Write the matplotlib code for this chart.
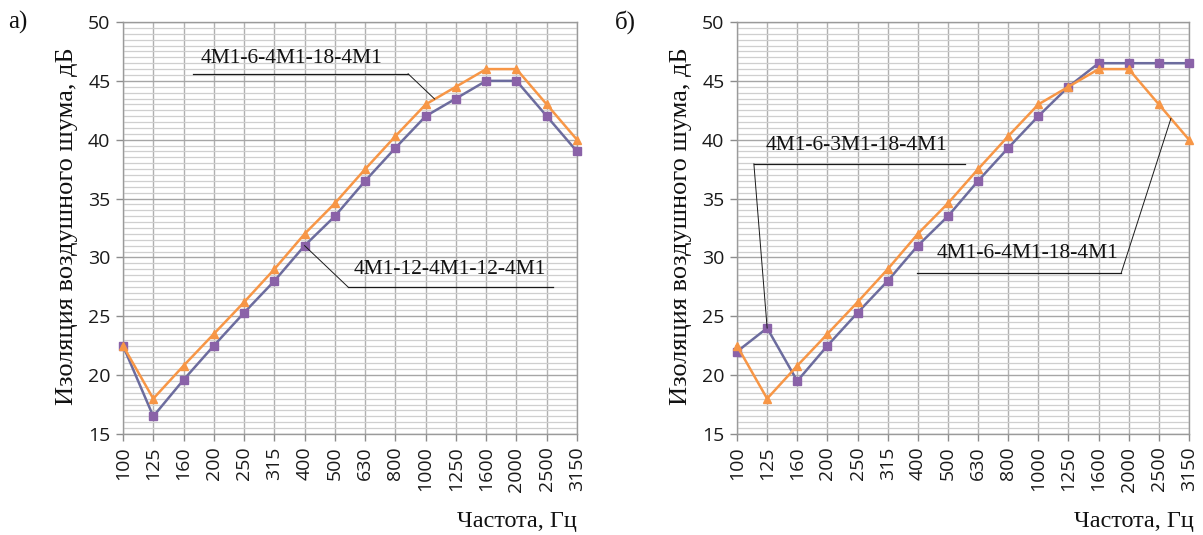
import numpy as np
import matplotlib
matplotlib.use('Agg')
import matplotlib.pyplot as plt
from matplotlib.ticker import MultipleLocator

# ---------------- data ----------------
freqs = ['100', '125', '160', '200', '250', '315', '400', '500', '630', '800',
         '1000', '1250', '1600', '2000', '2500', '3150']

# panel а)
a_orange_name = '4M1-6-4M1-18-4M1'
a_orange = [22.5, 18.0, 20.8, 23.5, 26.2, 29.0, 32.0, 34.6, 37.5, 40.3,
            43.0, 44.5, 46.0, 46.0, 43.0, 40.0]
a_purple_name = '4M1-12-4M1-12-4M1'
a_purple = [22.5, 16.5, 19.6, 22.5, 25.3, 28.0, 31.0, 33.5, 36.5, 39.3,
            42.0, 43.5, 45.0, 45.0, 42.0, 39.0]

# panel б)
b_orange_name = '4M1-6-4M1-18-4M1'
b_orange = [22.5, 18.0, 20.8, 23.5, 26.2, 29.0, 32.0, 34.6, 37.5, 40.3,
            43.0, 44.5, 46.0, 46.0, 43.0, 40.0]
b_purple_name = '4M1-6-3M1-18-4M1'
b_purple = [22.0, 24.0, 19.5, 22.5, 25.3, 28.0, 31.0, 33.5, 36.5, 39.3,
            42.0, 44.5, 46.5, 46.5, 46.5, 46.5]

y_label = 'Изоляция воздушного шума, дБ'
x_label = 'Частота, Гц'
panel_labels = ['а)', 'б)']

# ---------------- style ----------------
ORANGE = '#F79646'
PURPLE_LINE = '#6C6C9E'
PURPLE_MARK = '#8A62A8'
SERIF = ['Liberation Serif', 'DejaVu Serif']
SANS = ['Open Sans', 'DejaVu Sans']

W, H = 1203, 535
fig = plt.figure(figsize=(W / 100, H / 100), dpi=100)


def px_axes(x0, x1, y0, y1):
    return fig.add_axes([x0 / W, 1 - y1 / H, (x1 - x0) / W, (y1 - y0) / H])


def style_axes(ax):
    n = len(freqs)
    x = np.arange(n)
    ax.set_xlim(0, n - 1)
    ax.set_ylim(15, 50)
    ax.set_xticks(x)
    ax.set_xticklabels(freqs, rotation=90, fontfamily=SANS, fontsize=14,
                       color='#1a1a1a')
    ax.yaxis.set_major_locator(MultipleLocator(5))
    ax.yaxis.set_minor_locator(MultipleLocator(0.5))
    for lab in ax.get_yticklabels():
        lab.set_fontfamily(SANS)
        lab.set_fontsize(14)
        lab.set_color('#1a1a1a')
    ax.tick_params(axis='both', which='major', direction='out', length=5,
                   width=1, color='#8c8c8c', pad=4)
    ax.tick_params(axis='y', which='minor', length=0)
    ax.grid(axis='y', which='minor', color='#cfcfcf', lw=0.9, zorder=0)
    ax.grid(axis='y', which='major', color='#a6a6a6', lw=1.0, zorder=0)
    ax.grid(axis='x', which='major', color='#b0b0b0', lw=1.0, zorder=0)
    ax.set_axisbelow(True)
    for s in ax.spines.values():
        s.set_color('#9a9a9a')
        s.set_linewidth(1.0)


def draw_series(ax, orange, purple):
    x = np.arange(len(freqs))
    ax.plot(x, purple, color=PURPLE_LINE, lw=1.8, marker='s', ms=5.2,
            mfc=PURPLE_MARK, mec=PURPLE_MARK, zorder=3, clip_on=False)
    ax.plot(x, orange, color=ORANGE, lw=1.8, marker='^', ms=5.5,
            mfc=ORANGE, mec=ORANGE, zorder=4, clip_on=False)


def callout(ax, text, tx, ty, ux0, ux1, uy, from_left, px, py):
    ax.text(tx, ty, text, ha='center', va='center', fontfamily=SERIF,
            fontsize=15.5, color='#111111', zorder=6)
    ax.plot([ux0, ux1], [uy, uy], color='#1a1a1a', lw=0.9, zorder=5,
            clip_on=False)
    sx = ux0 if from_left else ux1
    ax.plot([sx, px], [uy, py], color='#1a1a1a', lw=0.7, zorder=5,
            clip_on=False)


# ---------- panel а ----------
axA = px_axes(123, 577, 22, 434)
style_axes(axA)
draw_series(axA, a_orange, a_purple)
xi = np.arange(len(freqs))
callout(axA, a_orange_name, 5.58, 46.9, 2.31, 9.42, 45.6, False,
        10.3, np.interp(10.3, xi, a_orange))
callout(axA, a_purple_name, 10.8, 28.95, 7.43, 14.2, 27.5, True,
        6, a_purple[6])

# ---------- panel б ----------
axB = px_axes(737, 1189, 22, 434)
style_axes(axB)
draw_series(axB, b_orange, b_purple)
callout(axB, b_purple_name, 3.97, 39.5, 0.56, 7.55, 37.95, True,
        1, b_purple[1])
callout(axB, b_orange_name, 9.64, 30.3, 5.96, 12.75, 28.68, False,
        14.4, np.interp(14.4, xi, b_orange))

# axis labels and panel labels
for ax_left, ax_right, xoff in [(123, 577, 0), (737, 1189, 5)]:
    fig.text((ax_left - 56) / W, 1 - 226 / H, y_label, rotation=90,
             ha='center', va='center', fontfamily=SERIF, fontsize=19,
             color='#111111')
    fig.text((ax_right + xoff) / W, 1 - 521 / H, x_label, ha='right',
             va='center', fontfamily=SERIF, fontsize=17.5, color='#111111')

fig.text(8 / W, 1 - 22 / H, panel_labels[0], ha='left', va='center',
         fontfamily=SERIF, fontsize=18, color='#111111')
fig.text(615 / W, 1 - 22 / H, panel_labels[1], ha='left', va='center',
         fontfamily=SERIF, fontsize=18, color='#111111')

fig.savefig('out.png', dpi=100, facecolor='white')
